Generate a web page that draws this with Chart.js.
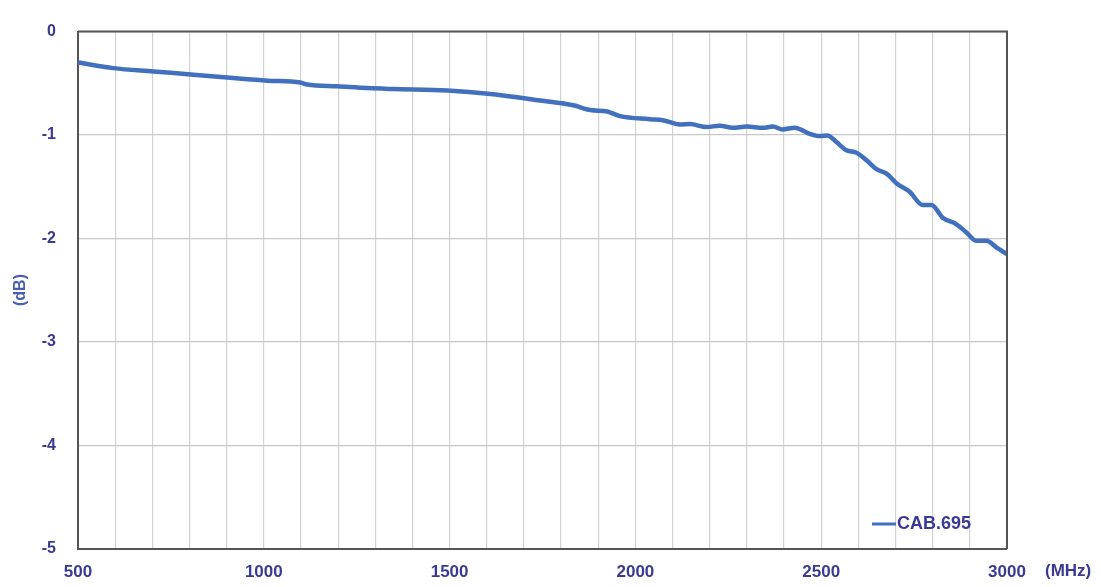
<!DOCTYPE html>
<html>
<head>
<meta charset="utf-8">
<script src="https://cdn.jsdelivr.net/npm/chart.js@4"></script>
<style>
html,body{margin:0;padding:0;background:#fff;}
#wrap{width:1101px;height:587px;position:relative;}
</style>
</head>
<body>
<div id="wrap"><canvas id="c" width="1101" height="587"></canvas></div>
<script>
const seriesName = "CAB.695";
const freqMHz = [500,595,703,811,918,1010,1098,1117,1198,1279,1349,1494,1610,1744,1833,1879,1924,1959,2039,2074,2120,2147,2192,2227,2262,2300,2343,2370,2396,2429,2469,2496,2517,2541,2568,2595,2622,2649,2676,2703,2738,2773,2797,2827,2864,2891,2918,2945,2972,3000];
const lossDB = [-0.298,-0.353,-0.385,-0.416,-0.449,-0.474,-0.492,-0.512,-0.529,-0.546,-0.555,-0.570,-0.603,-0.666,-0.712,-0.758,-0.772,-0.817,-0.846,-0.856,-0.898,-0.893,-0.923,-0.909,-0.930,-0.918,-0.930,-0.918,-0.945,-0.928,-0.988,-1.010,-1.003,-1.067,-1.147,-1.170,-1.243,-1.330,-1.372,-1.468,-1.548,-1.676,-1.676,-1.798,-1.862,-1.942,-2.022,-2.022,-2.087,-2.151];
const xMin = 500, xMax = 3000, xStep = 100, xLabelEvery = 500;
const yMin = -5, yMax = 0, yStep = 1;
const xUnit = "(MHz)", yUnit = "(dB)";

const textColor = '#3a3a94';
const lineColor = '#4070be';
const fontFam = '"Liberation Sans", Arial, sans-serif';

const extras = {
  id: 'extras',
  afterDraw(chart) {
    const ctx = chart.ctx, a = chart.chartArea;
    ctx.save();
    // frame top/right
    ctx.strokeStyle = '#555';
    ctx.lineWidth = 2;
    ctx.beginPath();
    ctx.moveTo(a.left, a.top);
    ctx.lineTo(a.right, a.top);
    ctx.lineTo(a.right, a.bottom);
    ctx.stroke();
    ctx.fillStyle = textColor;
    ctx.font = 'bold 17px ' + fontFam;
    ctx.textBaseline = 'middle';
    ctx.textAlign = 'left';
    ctx.fillText(xUnit, a.right + 38, 571);
    ctx.save();
    ctx.translate(21, 290);
    ctx.rotate(-Math.PI / 2);
    ctx.textAlign = 'center';
    ctx.fillStyle = '#4a5fb0';
    ctx.font = 'bold 16px ' + fontFam;
    ctx.fillText(yUnit, 0, 0);
    ctx.restore();
    // legend inside plot
    const lx = a.right - 135, ly = a.bottom - 25;
    ctx.strokeStyle = lineColor;
    ctx.lineWidth = 3;
    ctx.beginPath();
    ctx.moveTo(lx, ly);
    ctx.lineTo(lx + 24, ly);
    ctx.stroke();
    ctx.textAlign = 'left';
    ctx.font = 'bold 18px ' + fontFam;
    ctx.fillText(chart.data.datasets[0].label, lx + 25, ly);
    ctx.restore();
  }
};

new Chart(document.getElementById('c'), {
  type: 'scatter',
  data: {
    datasets: [{
      label: seriesName,
      data: freqMHz.map((f, i) => ({x: f, y: lossDB[i]})),
      showLine: true,
      borderColor: lineColor,
      borderWidth: 4.5,
      pointRadius: 0,
      cubicInterpolationMode: 'monotone'
    }]
  },
  options: {
    responsive: false,
    animation: false,
    layout: {padding: {left: 0, top: 29, right: 94, bottom: 0}},
    plugins: {legend: {display: false}, tooltip: {enabled: false}},
    scales: {
      x: {
        type: 'linear', min: xMin, max: xMax,
        afterFit(s) { s.height = 38; },
        ticks: {
          stepSize: xStep, autoSkip: false, maxRotation: 0, padding: 13,
          color: textColor,
          font: {family: fontFam, size: 17, weight: 'bold'},
          callback: v => (v % xLabelEvery === 0 ? String(v) : '')
        },
        grid: {color: '#d2d2d2', lineWidth: 1.2, drawTicks: false},
        border: {color: '#555', width: 2}
      },
      y: {
        min: yMin, max: yMax,
        afterFit(s) { s.width = 78; },
        ticks: {
          stepSize: yStep, padding: 22, color: textColor,
          font: {family: fontFam, size: 16, weight: 'bold'}
        },
        grid: {color: '#c8c8c8', lineWidth: 1.2, drawTicks: false},
        border: {color: '#555', width: 2}
      }
    }
  },
  plugins: [extras]
});
</script>
</body>
</html>
